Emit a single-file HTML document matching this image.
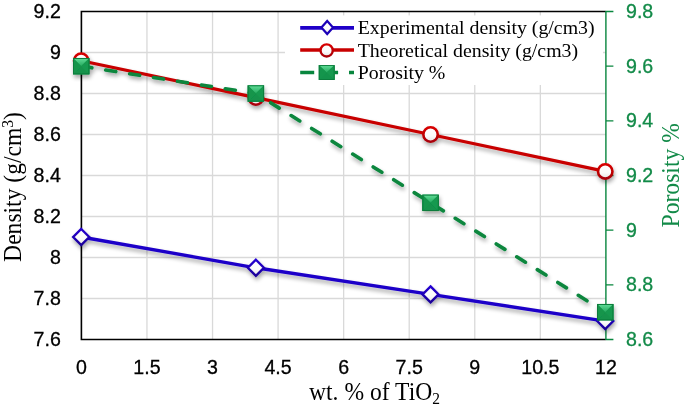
<!DOCTYPE html>
<html><head><meta charset="utf-8"><style>
html,body{margin:0;padding:0;background:#fff;width:685px;height:410px;overflow:hidden}
svg{display:block;will-change:transform}
.tl{font-family:"Liberation Sans",sans-serif;font-size:19.6px;fill:#000;stroke:#000;stroke-width:0.3px}
.tr{font-family:"Liberation Sans",sans-serif;font-size:19.6px;fill:#128a48;stroke:#128a48;stroke-width:0.3px}
.ser{font-family:"Liberation Serif",serif}
</style></head><body>
<svg width="685" height="410" viewBox="0 0 685 410">
<defs>
<filter id="sh" x="-20%" y="-20%" width="140%" height="160%">
<feGaussianBlur in="SourceAlpha" stdDeviation="1.9"/>
<feOffset dx="1.2" dy="3" result="b"/>
<feComponentTransfer><feFuncA type="linear" slope="0.35"/></feComponentTransfer>
<feMerge><feMergeNode/><feMergeNode in="SourceGraphic"/></feMerge>
</filter>
<linearGradient id="gt" x1="0" y1="0" x2="0" y2="1">
<stop offset="0.1" stop-color="#5cd993"/><stop offset="1" stop-color="#26aa5f"/>
</linearGradient>
<linearGradient id="wf" x1="0" y1="0" x2="0" y2="1">
<stop offset="0" stop-color="#ffffff"/><stop offset="0.6" stop-color="#fbfbfb"/><stop offset="1" stop-color="#e4e4e4"/>
</linearGradient>
<linearGradient id="rg" x1="0" y1="0" x2="0" y2="1"><stop offset="0" stop-color="#d80000"/><stop offset="1" stop-color="#a80008"/></linearGradient>
<linearGradient id="bg" x1="0" y1="0" x2="0" y2="1"><stop offset="0" stop-color="#2400d2"/><stop offset="1" stop-color="#1a0098"/></linearGradient>
<g id="sq">
<rect x="-8.2" y="-8.2" width="16.4" height="16.4" fill="#16984e"/>
<polygon points="-8.2,-8.2 8.2,-8.2 0,0" fill="url(#gt)"/>
<polygon points="-8.2,8.2 8.2,8.2 0,0" fill="#13924b"/>
<polygon points="-8.2,-8.2 -8.2,8.2 0,0" fill="#14954c"/>
<polygon points="8.2,-8.2 8.2,8.2 0,0" fill="#17994f"/>
<rect x="-7.7" y="-7.7" width="15.4" height="15.4" fill="none" stroke="#0c7c3c" stroke-width="1"/>
</g>
</defs>

<path d="M146.96 11.50V339.50 M212.53 11.50V339.50 M278.09 11.50V339.50 M343.65 11.50V339.50 M409.21 11.50V339.50 M474.77 11.50V339.50 M540.34 11.50V339.50 M81.40 298.50H605.90 M81.40 257.50H605.90 M81.40 216.50H605.90 M81.40 175.50H605.90 M81.40 134.50H605.90 M81.40 93.50H605.90 M81.40 52.50H605.90" stroke="#d9d9d9" stroke-width="1.3" fill="none"/>
<path d="M605.90 11.50H81.40V339.50H605.90" stroke="#000" stroke-width="1.6" fill="none"/>
<path d="M605.90 11.00V340.00 M605.90 339.50H613.40 M605.90 284.83H613.40 M605.90 230.17H613.40 M605.90 175.50H613.40 M605.90 120.83H613.40 M605.90 66.17H613.40 M605.90 11.50H613.40" stroke="#08863e" stroke-width="1.4" fill="none"/>
<text class="tl" x="60.8" y="346.00" text-anchor="end">7.6</text>
<text class="tl" x="60.8" y="305.00" text-anchor="end">7.8</text>
<text class="tl" x="60.8" y="264.00" text-anchor="end">8</text>
<text class="tl" x="60.8" y="223.00" text-anchor="end">8.2</text>
<text class="tl" x="60.8" y="182.00" text-anchor="end">8.4</text>
<text class="tl" x="60.8" y="141.00" text-anchor="end">8.6</text>
<text class="tl" x="60.8" y="100.00" text-anchor="end">8.8</text>
<text class="tl" x="60.8" y="59.00" text-anchor="end">9</text>
<text class="tl" x="60.8" y="18.00" text-anchor="end">9.2</text>
<text class="tr" x="626" y="346.00">8.6</text>
<text class="tr" x="626" y="291.33">8.8</text>
<text class="tr" x="626" y="236.67">9</text>
<text class="tr" x="626" y="182.00">9.2</text>
<text class="tr" x="626" y="127.33">9.4</text>
<text class="tr" x="626" y="72.67">9.6</text>
<text class="tr" x="626" y="18.00">9.8</text>
<text class="tl" x="81.40" y="374.2" text-anchor="middle">0</text>
<text class="tl" x="146.96" y="374.2" text-anchor="middle">1.5</text>
<text class="tl" x="212.53" y="374.2" text-anchor="middle">3</text>
<text class="tl" x="278.09" y="374.2" text-anchor="middle">4.5</text>
<text class="tl" x="343.65" y="374.2" text-anchor="middle">6</text>
<text class="tl" x="409.21" y="374.2" text-anchor="middle">7.5</text>
<text class="tl" x="474.77" y="374.2" text-anchor="middle">9</text>
<text class="tl" x="540.34" y="374.2" text-anchor="middle">10.5</text>
<text class="tl" x="605.90" y="374.2" text-anchor="middle">12</text>
<g filter="url(#sh)">
<polyline points="81.20,237.00 255.88,267.75 430.56,294.40 605.24,321.05" stroke="#1f00c8" stroke-width="3.3" fill="none" stroke-linejoin="round"/>
<polygon points="81.20,229.00 89.20,237.00 81.20,245.00 73.20,237.00" fill="url(#wf)" stroke="url(#bg)" stroke-width="2.4"/>
<polygon points="255.88,259.75 263.88,267.75 255.88,275.75 247.88,267.75" fill="url(#wf)" stroke="url(#bg)" stroke-width="2.4"/>
<polygon points="430.56,286.40 438.56,294.40 430.56,302.40 422.56,294.40" fill="url(#wf)" stroke="url(#bg)" stroke-width="2.4"/>
<polygon points="605.24,313.05 613.24,321.05 605.24,329.05 597.24,321.05" fill="url(#wf)" stroke="url(#bg)" stroke-width="2.4"/>
<polyline points="81.20,60.70 255.88,97.60 430.56,134.50 605.24,171.40" stroke="#c80000" stroke-width="3.2" fill="none" stroke-linejoin="round"/>
<circle cx="81.20" cy="60.70" r="7.2" fill="url(#wf)" stroke="url(#rg)" stroke-width="2.6"/>
<circle cx="255.88" cy="97.60" r="7.2" fill="url(#wf)" stroke="url(#rg)" stroke-width="2.6"/>
<circle cx="430.56" cy="134.50" r="7.2" fill="url(#wf)" stroke="url(#rg)" stroke-width="2.6"/>
<circle cx="605.24" cy="171.40" r="7.2" fill="url(#wf)" stroke="url(#rg)" stroke-width="2.6"/>
<polyline points="81.20,66.17 255.88,93.50 430.56,202.83 605.24,312.17" stroke="#08863e" stroke-width="3.6" fill="none" stroke-dasharray="10.2 14" stroke-dashoffset="-0.6" stroke-linecap="round"/>
<use href="#sq" x="81.20" y="66.17"/>
<use href="#sq" x="255.88" y="93.50"/>
<use href="#sq" x="430.56" y="202.83"/>
<use href="#sq" x="605.24" y="312.17"/>
</g>
<rect x="285" y="15.4" width="318" height="69.6" fill="#fff"/>
<path d="M300.2 27.9H354" stroke="#1f00c8" stroke-width="3.9"/>
<polygon points="327.2,20.9 333.0,27.5 327.2,34.0 321.4,27.5" fill="url(#wf)" stroke="#1c00b8" stroke-width="2.2"/>
<path d="M300.2 50H354" stroke="#c80000" stroke-width="3.7"/>
<circle cx="326.65" cy="50.45" r="6.1" fill="url(#wf)" stroke="url(#rg)" stroke-width="2.4"/>
<path d="M300.2 72.5H314.2M334 72.5H338.1M349 72.5H354" stroke="#08863e" stroke-width="3.5"/>
<use href="#sq" transform="translate(326.7 72.55) scale(0.963 0.908)"/>
<g class="ser" font-size="19.85" fill="#000">
<text x="357.7" y="34.0">Experimental density (g/cm3)</text>
<text x="357.7" y="56.5">Theoretical density (g/cm3)</text>
<text x="357.7" y="78.5">Porosity %</text>
</g>
<text class="ser" font-size="23.6" transform="translate(309.0 399.5) scale(1 1.055)">wt. % of TiO<tspan font-size="15.5" dy="4.6">2</tspan></text>
<text class="ser" font-size="23.6" transform="translate(21.0 261.9) rotate(-90) scale(1 1.065)">Density (g/cm<tspan font-size="15.5" dy="-7.5">3</tspan><tspan dy="7.5">)</tspan></text>
<text class="ser" font-size="23.6" fill="#128a48" transform="translate(678.8 227.4) rotate(-90) scale(1 1.08)">Porosity %</text>
</svg>
</body></html>
